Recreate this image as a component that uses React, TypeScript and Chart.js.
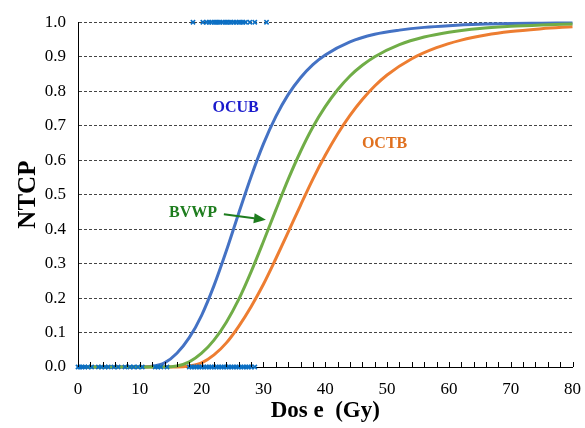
import React, { useEffect, useRef } from 'react';
import { Chart, registerables } from 'chart.js';

Chart.register(...registerables);

// ---- Data ----
const doseTickLabels = [0, 10, 20, 30, 40, 50, 60, 70, 80];
const ntcpTickLabels = [0.0, 0.1, 0.2, 0.3, 0.4, 0.5, 0.6, 0.7, 0.8, 0.9, 1.0];

const ocubDose = [0, 10, 12, 14, 16, 18, 20, 22, 24, 26, 28, 30, 32, 34, 36, 38, 40, 44, 48, 52, 56, 60, 65, 70, 75, 80];
const ocubNtcp = [0, 0, 0.002, 0.012, 0.04, 0.085, 0.15, 0.236, 0.337, 0.446, 0.552, 0.647, 0.726, 0.79, 0.839, 0.877, 0.905, 0.943, 0.965, 0.977, 0.985, 0.99, 0.994, 0.996, 0.997, 0.998];

const bvwpDose = [0, 14, 16, 18, 20, 22, 24, 26, 28, 30, 32, 34, 36, 38, 40, 42, 44, 46, 48, 52, 56, 60, 65, 70, 75, 80];
const bvwpNtcp = [0, 0, 0.003, 0.015, 0.04, 0.078, 0.13, 0.196, 0.276, 0.364, 0.455, 0.544, 0.625, 0.696, 0.755, 0.804, 0.844, 0.875, 0.9, 0.935, 0.957, 0.971, 0.982, 0.988, 0.992, 0.995];

const octbDose = [0, 16, 18, 20, 22, 24, 26, 28, 30, 32, 34, 36, 38, 40, 42, 44, 46, 48, 50, 54, 58, 62, 66, 70, 75, 80];
const octbNtcp = [0, 0, 0.003, 0.012, 0.035, 0.07, 0.118, 0.175, 0.24, 0.314, 0.391, 0.469, 0.545, 0.614, 0.676, 0.73, 0.776, 0.815, 0.847, 0.894, 0.926, 0.948, 0.963, 0.973, 0.981, 0.987];

// observed patients: complication (NTCP = 1) and no complication (NTCP = 0)
const eventDoses = [18.6, 20.2, 20.8, 21.2, 21.6, 22.0, 22.3, 22.7, 23.0, 23.4, 23.8, 24.1, 24.5, 24.8, 25.2, 25.6, 26.0, 26.3, 26.7, 27.1, 27.8, 28.6, 30.5];
const noEventDoses = [0.0, 0.3, 0.7, 1.1, 1.6, 2.2, 3.3, 3.8, 4.4, 4.9, 5.8, 6.5, 7.6, 8.4, 9.0, 9.7, 10.4, 12.5, 12.9, 13.4, 14.4,
  18.0, 18.4, 18.8, 19.2, 19.6, 20.0, 20.4, 20.8, 21.2, 21.6, 22.0, 22.4, 22.8, 23.2, 23.6, 24.0, 24.4, 24.8, 25.2, 25.6, 26.0, 26.4, 26.8, 27.2, 27.6, 28.0, 28.6];

const curveLabels = ['OCUB', 'BVWP', 'OCTB'];

const SERIF = "'Liberation Serif', 'Times New Roman', serif";

function pts(xs: number[], ys: number[]) {
  return xs.map((x, i) => ({ x, y: ys[i] }));
}

const annotationPlugin = {
  id: 'annot',
  afterDatasetsDraw(chart: any) {
    const { ctx, scales } = chart;
    const xs = scales.x, ys = scales.y;
    ctx.save();
    // minor ticks on x axis (inside)
    ctx.strokeStyle = '#000';
    ctx.lineWidth = 1;
    const yb = ys.getPixelForValue(0);
    for (let v = 0; v <= 80; v += 2) {
      const px = Math.round(xs.getPixelForValue(v)) + 0.5;
      ctx.beginPath();
      ctx.moveTo(px, yb);
      ctx.lineTo(px, yb - 5);
      ctx.stroke();
    }
    ctx.font = `bold 16px ${SERIF}`;
    ctx.textAlign = 'center';
    ctx.textBaseline = 'middle';
    ctx.fillStyle = '#1a1acc';
    ctx.fillText(curveLabels[0], xs.getPixelForValue(25.5), ys.getPixelForValue(0.752));
    ctx.fillStyle = '#e0701e';
    ctx.fillText(curveLabels[2], xs.getPixelForValue(49.6), ys.getPixelForValue(0.648));
    ctx.fillStyle = '#1e7d1e';
    ctx.fillText(curveLabels[1], xs.getPixelForValue(18.6), ys.getPixelForValue(0.447));
    // arrow
    const x1 = xs.getPixelForValue(23.6), y1 = ys.getPixelForValue(0.443);
    const x2 = xs.getPixelForValue(30.4), y2 = ys.getPixelForValue(0.427);
    const ang = Math.atan2(y2 - y1, x2 - x1);
    const hl = 12, hw = 5;
    const bx = x2 - hl * Math.cos(ang), by = y2 - hl * Math.sin(ang);
    ctx.strokeStyle = '#1e7d1e';
    ctx.lineWidth = 2;
    ctx.beginPath();
    ctx.moveTo(x1, y1);
    ctx.lineTo(bx, by);
    ctx.stroke();
    ctx.beginPath();
    ctx.moveTo(x2, y2);
    ctx.lineTo(bx + hw * Math.sin(ang), by - hw * Math.cos(ang));
    ctx.lineTo(bx - hw * Math.sin(ang), by + hw * Math.cos(ang));
    ctx.closePath();
    ctx.fill();
    ctx.restore();
  },
};

export default function App() {
  const ref = useRef<HTMLCanvasElement | null>(null);
  useEffect(() => {
    document.body.style.margin = '0';
    if (!ref.current) return;
    const marker = {
      showLine: false,
      pointStyle: 'crossRot',
      pointRadius: 3,
      pointBorderWidth: 1.6,
      borderColor: '#0b6fc4',
      backgroundColor: '#0b6fc4',
      clip: false,
    };
    const line = (label: string, data: any, color: string) => ({
      label, data, showLine: true, pointRadius: 0, borderColor: color, borderWidth: 3,
      cubicInterpolationMode: 'monotone', clip: false,
    });
    const chart = new Chart(ref.current, {
      type: 'scatter',
      data: {
        datasets: [
          { ...marker, label: 'events', data: eventDoses.map((x) => ({ x, y: 1 })) },
          { ...marker, label: 'no events', data: noEventDoses.map((x) => ({ x, y: 0 })) },
          line(curveLabels[1], pts(bvwpDose, bvwpNtcp), '#70ad47'),
          line(curveLabels[2], pts(octbDose, octbNtcp), '#ed7d31'),
          line(curveLabels[0], pts(ocubDose, ocubNtcp), '#4472c4'),
        ],
      } as any,
      options: {
        animation: false,
        responsive: false,
        maintainAspectRatio: false,
        layout: { padding: { top: 19, right: 11, left: 0, bottom: 0 } },
        plugins: { legend: { display: false }, tooltip: { enabled: false } },
        scales: {
          x: {
            type: 'linear',
            min: doseTickLabels[0],
            max: doseTickLabels[doseTickLabels.length - 1],
            afterBuildTicks: (s: any) => { s.ticks = doseTickLabels.map((v) => ({ value: v })); },
            afterFit: (s: any) => { s.height = 61; },
            ticks: { color: '#000', font: { family: SERIF, size: 17 }, padding: 4, maxRotation: 0, autoSkip: false },
            grid: { display: false },
            border: { display: true, color: '#000', width: 1 },
            title: {
              display: true, text: 'Dos e  (Gy)', color: '#000',
              font: { family: SERIF, size: 23, weight: 'bold' }, padding: { top: 0, bottom: 3 },
            },
          },
          y: {
            type: 'linear',
            min: 0,
            max: 1,
            afterBuildTicks: (s: any) => { s.ticks = ntcpTickLabels.map((v) => ({ value: v })); },
            afterFit: (s: any) => { s.width = 78; },
            ticks: { color: '#000', font: { family: SERIF, size: 17 }, padding: 12, callback: (v: any) => Number(v).toFixed(1) },
            grid: { color: '#444', lineWidth: 1, drawTicks: false } as any,
            border: { display: true, color: '#000', width: 1, dash: [3, 2] } as any,
            title: {
              display: true, text: 'NTCP', color: '#000',
              font: { family: SERIF, size: 25, weight: 'bold' }, padding: { top: 14, bottom: 0 },
            },
          },
        },
      } as any,
      plugins: [annotationPlugin],
    });
    return () => chart.destroy();
  }, []);
  return (
    <div style={{ width: 585, height: 428 }}>
      <canvas ref={ref} width={585} height={428} style={{ display: 'block' }} />
    </div>
  );
}
